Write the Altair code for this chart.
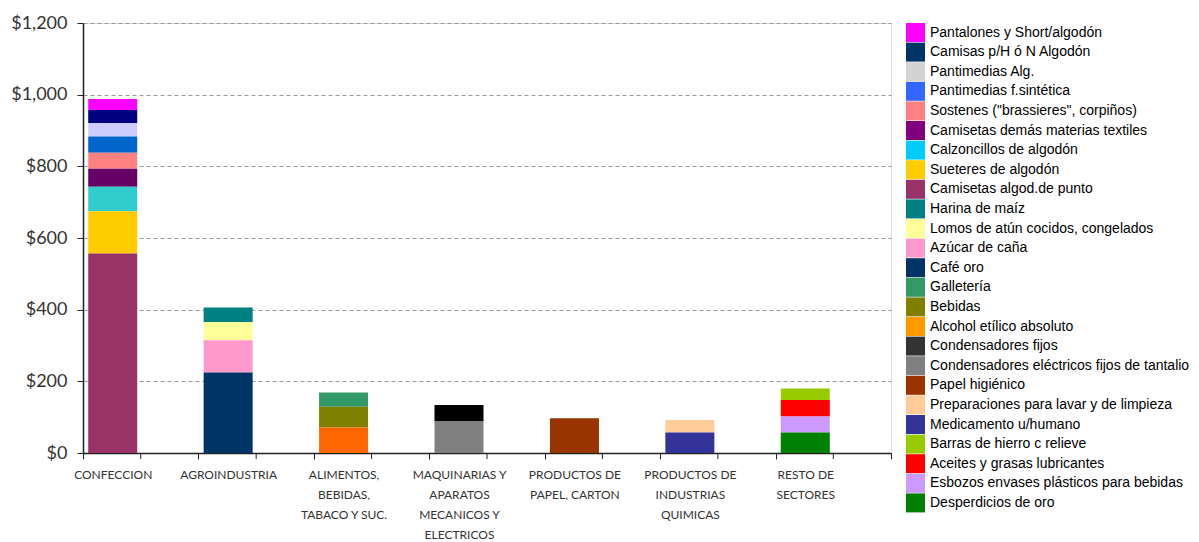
import altair as alt
import pandas as pd

# Categories (x axis), '|' marks a line break in the label
sectores = [
    "CONFECCION",
    "AGROINDUSTRIA",
    "ALIMENTOS,|BEBIDAS,|TABACO Y SUC.",
    "MAQUINARIAS Y|APARATOS|MECANICOS Y|ELECTRICOS",
    "PRODUCTOS DE|PAPEL, CARTON",
    "PRODUCTOS DE|INDUSTRIAS|QUIMICAS",
    "RESTO DE|SECTORES",
]

# Series in legend order (top to bottom)
series = [
    "Pantalones y Short/algodón",
    "Camisas p/H ó N Algodón",
    "Pantimedias Alg.",
    "Pantimedias f.sintética",
    "Sostenes (\"brassieres\", corpiños)",
    "Camisetas demás materias textiles",
    "Calzoncillos de algodón",
    "Sueteres de algodón",
    "Camisetas algod.de punto",
    "Harina de maíz",
    "Lomos de atún cocidos, congelados",
    "Azúcar de caña",
    "Café oro",
    "Galletería",
    "Bebidas",
    "Alcohol etílico absoluto",
    "Condensadores fijos",
    "Condensadores eléctricos fijos de tantalio",
    "Papel higiénico",
    "Preparaciones para lavar y de limpieza",
    "Medicamento u/humano",
    "Barras de hierro c relieve",
    "Aceites y grasas lubricantes",
    "Esbozos envases plásticos para bebidas",
    "Desperdicios de oro",
]

# Sector index of each series
sector_idx = [0, 0, 0, 0, 0, 0, 0, 0, 0,
              1, 1, 1, 1,
              2, 2, 2,
              3, 3,
              4,
              5, 5,
              6, 6, 6, 6]

# Values (millions of US$)
valores = [31, 37, 37, 45, 45, 50, 68, 118, 557,
           41, 50, 90, 225,
           40, 58, 71,
           46, 88,
           97,
           35, 57,
           32, 46, 45, 57]

bar_colors = ["#FF00FF", "#000080", "#CCCCFF", "#0066CC", "#FF8080", "#660066",
              "#33CCCC", "#FFCC00", "#993366", "#008080", "#FFFF99", "#FF99CC",
              "#003366", "#339966", "#808000", "#FF6600", "#000000", "#808080",
              "#993300", "#FFCC99", "#333399", "#99CC00", "#FF0000", "#CC99FF",
              "#008000"]

legend_colors = ["#FF00FF", "#003366", "#D3D3D3", "#3366FF", "#FF8080", "#800080",
                 "#00CCFF", "#FFCC00", "#993366", "#008080", "#FFFF99", "#FF99CC",
                 "#003366", "#339966", "#808000", "#FF9900", "#333333", "#808080",
                 "#993300", "#FFCC99", "#333399", "#99CC00", "#FF0000", "#CC99FF",
                 "#008000"]

n = len(series)
df = pd.DataFrame({
    "serie": series,
    "sector": [sectores[i] for i in sector_idx],
    "valor": valores,
    "orden": [n - i for i in range(n)],
})

x_enc = alt.X(
    "sector:N",
    sort=sectores,
    scale=alt.Scale(domain=sectores, paddingInner=0, paddingOuter=0),
    axis=alt.Axis(
        title=None,
        labelAngle=0,
        labelExpr="datum.value ? split(datum.value, '|') : ''",
        labelOffset=-28,
        labelFont="Lato",
        labelFontSize=12,
        labelColor="#333333",
        labelLineHeight=20,
        labelPadding=10,
        labelBaseline="top",
        tickBand="extent",
        tickSize=6,
        tickColor="#222222",
        domainColor="#222222",
        domainWidth=1.5,
        grid=False,
    ),
)

y_enc = alt.Y(
    "valor:Q",
    stack="zero",
    scale=alt.Scale(domain=[0, 1200], nice=False),
    axis=alt.Axis(
        title=None,
        values=[0, 200, 400, 600, 800, 1000, 1200],
        format="$,.0f",
        labelFont="Lato",
        labelFontSize=18,
        labelColor="#333333",
        labelPadding=10,
        tickSize=6,
        tickColor="#222222",
        domainColor="#222222",
        domainWidth=1.5,
        grid=True,
        gridColor="#999999",
        gridDash=[4, 3],
        gridWidth=1,
    ),
)

bars = alt.Chart(df).mark_bar(width=49, xOffset=-28).encode(
    x=x_enc,
    y=y_enc,
    color=alt.Color("serie:N", scale=alt.Scale(domain=series, range=bar_colors), legend=None),
    order=alt.Order("orden:Q", sort="ascending"),
)

legend_layer = alt.Chart(df).transform_filter("false").mark_bar().encode(
    x=alt.X("sector:N", sort=sectores),
    y=alt.Y("valor:Q"),
    color=alt.Color(
        "serie:N",
        scale=alt.Scale(domain=series, range=legend_colors),
        legend=alt.Legend(
            title=None,
            orient="right",
            offset=15,
            padding=0,
            symbolType="square",
            symbolSize=361,
            symbolStrokeWidth=0,
            rowPadding=0.6,
            labelFont="Liberation Sans",
            labelFontSize=14,
            labelColor="#000000",
            labelOffset=5,
            labelLimit=400,
        ),
    ),
)

mid_ticks = alt.Chart(pd.DataFrame({"sector": sectores})).mark_rule(color="#222222").encode(
    x=alt.X("sector:N", sort=sectores),
    y=alt.value(430),
    y2=alt.value(436),
)

chart = alt.layer(bars, legend_layer, mid_ticks).resolve_scale(
    color="independent"
).properties(
    width=808,
    height=430,
    padding={"left": 83, "top": 23, "right": 308, "bottom": 89},
    autosize=alt.AutoSizeParams(type="none"),
).configure_view(
    stroke="#999999",
    strokeWidth=1.5,
).configure(background="white")

chart.save("out.html", embed_options={"renderer": "svg", "actions": False})
